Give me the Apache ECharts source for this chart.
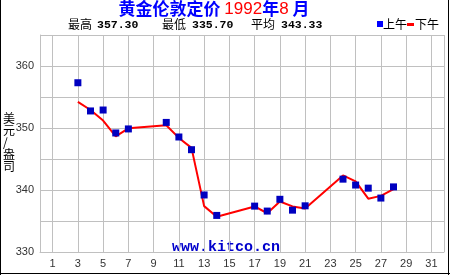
<!DOCTYPE html>
<html><head><meta charset="utf-8">
<script src="https://cdn.jsdelivr.net/npm/echarts@6/dist/echarts.min.js"></script>
<style>html,body{margin:0;padding:0;background:#fff}#c{width:450px;height:275px}</style>
</head><body><div id="c"></div>
<script>
var days = [];
for (var d = 0; d <= 32; d++) days.push(String(d));
var amDays = [3,4,5,6,7,10,11,12,13,14,17,18,19,20,21,24,25,26,27,28];
var amValues = [357.3,352.75,352.9,349.2,349.85,350.9,348.55,346.5,339.2,335.9,337.4,336.6,338.5,336.75,337.45,341.75,340.8,340.3,338.7,340.5];
var pmDays = [3,4,5,6,7,10,11,12,13,14,17,18,19,20,21,24,25,26,27,28];
var pmValues = [354.2,352.9,351.2,348.65,349.95,350.45,348.4,346.8,337.4,335.7,337.35,336.25,338.15,337.35,337.0,342.35,341.4,338.6,339.05,340.15];
var yTicks = [330,340,350,360];
var stats = {high:'357.30', low:'335.70', avg:'343.33'};

function pairs(xs, ys){ return xs.map(function(x,i){ return [String(x), ys[i]]; }); }

var chart = echarts.init(document.getElementById('c'));
var CJK = '"Noto Sans CJK SC", sans-serif';
var MONO = '"Liberation Mono", monospace';
chart.setOption({
  animation:false,
  backgroundColor:'#fff',
  graphic:[
    {type:'text', x:214, y:9, style:{
      text:'{b|黄金伦敦定价 }{r|1992}{b|年}{r|8}{b| 月}',
      textAlign:'center', textVerticalAlign:'middle',
      rich:{
        b:{fill:'#0000ff', fontSize:17, lineHeight:18, fontWeight:'bold', fontFamily:CJK},
        r:{fill:'#ff0000', fontSize:17, lineHeight:18, fontFamily:'"Liberation Sans", sans-serif'}
      }}},
    {type:'text', left:68, top:18, style:{text:'最高', fontSize:12, fontFamily:CJK, fill:'#000'}},
    {type:'text', left:97, top:19, style:{text:stats.high, fontSize:11.5, fontWeight:'bold', fontFamily:MONO, fill:'#000'}},
    {type:'text', left:162, top:18, style:{text:'最低', fontSize:12, fontFamily:CJK, fill:'#000'}},
    {type:'text', left:192, top:19, style:{text:stats.low, fontSize:11.5, fontWeight:'bold', fontFamily:MONO, fill:'#000'}},
    {type:'text', left:251, top:18, style:{text:'平均', fontSize:12, fontFamily:CJK, fill:'#000'}},
    {type:'text', left:281, top:19, style:{text:stats.avg, fontSize:11.5, fontWeight:'bold', fontFamily:MONO, fill:'#000'}},
    {type:'rect', shape:{x:377, y:21, width:6, height:6}, style:{fill:'#0000ff'}},
    {type:'text', left:383, top:18, style:{text:'上午', fontSize:12, fontFamily:CJK, fill:'#000'}},
    {type:'rect', shape:{x:407, y:23, width:7, height:3}, style:{fill:'#ff0000'}},
    {type:'text', left:415, top:18, style:{text:'下午', fontSize:12, fontFamily:CJK, fill:'#000'}},
    {type:'text', left:3, top:112, style:{text:'美\n元\n/\n盎\n司', fontSize:12, lineHeight:12, fontFamily:CJK, fill:'#000'}},
    {type:'text', x:226, y:247, style:{text:'www.kitco.cn', fontSize:15, fontWeight:'bold', fontFamily:MONO, fill:'#0000cc', textAlign:'center', textVerticalAlign:'middle'}},
    {type:'line', shape:{x1:0.5, y1:0, x2:0.5, y2:275}, style:{stroke:'#000', lineWidth:1}},
    {type:'line', shape:{x1:448.5, y1:0, x2:448.5, y2:275}, style:{stroke:'#000', lineWidth:1}},
    {type:'line', shape:{x1:0, y1:273.5, x2:450, y2:273.5}, style:{stroke:'#000', lineWidth:1}}
  ],
  grid:{left:40, right:6, top:35, bottom:23},
  xAxis:{
    type:'category', data:days, boundaryGap:false,
    axisLine:{lineStyle:{color:'#c0c0c0'}},
    axisTick:{show:false},
    axisLabel:{interval:function(i){return i%2===1;}, color:'#333', fontSize:11, fontFamily:'"Liberation Sans", sans-serif', margin:6},
    splitLine:{show:true, interval:function(i){return i%2===1 || i===32;}, lineStyle:{color:'#c0c0c0', width:1}}
  },
  yAxis:{
    type:'value', min:330, max:365, interval:5,
    axisLine:{show:true, lineStyle:{color:'#c0c0c0'}},
    axisTick:{show:false},
    axisLabel:{formatter:function(v){return yTicks.indexOf(v)>=0 ? String(v) : '';}, color:'#333', fontSize:11, fontFamily:'"Liberation Sans", sans-serif', margin:6},
    splitLine:{show:true, lineStyle:{color:'#c0c0c0', width:1}}
  },
  series:[
    {name:'下午', type:'line', data:pairs(pmDays, pmValues), showSymbol:false, symbol:'none',
     lineStyle:{color:'#ff0000', width:2}, z:2},
    {name:'上午', type:'scatter', data:pairs(amDays, amValues), symbol:'rect', symbolSize:7,
     itemStyle:{color:'#0000c0', opacity:1}, z:3}
  ]
});
</script></body></html>
